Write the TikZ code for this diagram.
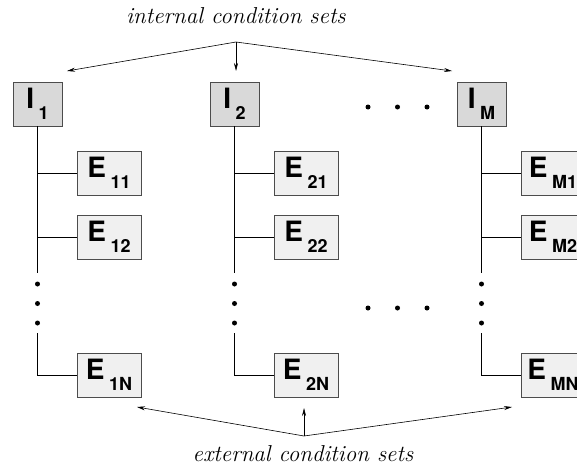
\documentclass[tikz,border=0pt]{standalone}
\usepackage{fontspec}
\newfontfamily\boxfont{TeX Gyre Heros}
\usetikzlibrary{arrows.meta}
\newcommand\boxlbl[2]{#1\hspace{4.5pt}\raisebox{-11pt}{\fontsize{18}{18}\selectfont #2}}
\begin{document}
\begin{tikzpicture}[x=1pt,y=-1pt,
  boxbase/.style={draw=black!70, line width=0.9pt, inner sep=0pt, minimum height=44pt,
    font=\boxfont\bfseries\fontsize{28}{28}\selectfont},
  ebox/.style={boxbase, fill=black!6, minimum width=64pt},
  ibox/.style={boxbase, fill=black!15, minimum width=49pt},
  conn/.style={line width=0.8pt},
  arr/.style={line width=0.6pt, -{Stealth[length=8pt,width=4pt]}},
  caption/.style={font=\itshape\fontsize{23}{23}\selectfont, inner sep=0pt},
  dotpt/.style={fill=black}
]
\useasboundingbox (0,0) rectangle (577,471);

% internal condition sets
\node[ibox] (I1) at (37.5,104) {\boxlbl{I}{1}};
\node[ibox] (I2) at (234.5,104) {\boxlbl{I}{2}};
\node[ibox] (IM) at (481.5,104) {\boxlbl{I}{M}};

% external condition sets
\node[ebox] (E11) at (109,173) {\boxlbl{E}{11}};
\node[ebox] (E12) at (109,237) {\boxlbl{E}{12}};
\node[ebox] (E1N) at (109,375) {\boxlbl{E}{1N}};
\node[ebox] (E21) at (306,173) {\boxlbl{E}{21}};
\node[ebox] (E22) at (306,237) {\boxlbl{E}{22}};
\node[ebox] (E2N) at (306,375) {\boxlbl{E}{2N}};
\node[ebox] (EM1) at (553,173) {\boxlbl{E}{M1}};
\node[ebox] (EM2) at (553,237) {\boxlbl{E}{M2}};
\node[ebox] (EMN) at (553,375) {\boxlbl{E}{MN}};

% tree connectors
\foreach \i in {1,2,M}{
  \draw[conn] (I\i.south) -- (I\i.south |- 0,273);
  \draw[conn] (I\i.south |- E\i1.west) -- (E\i1.west);
  \draw[conn] (I\i.south |- E\i2.west) -- (E\i2.west);
  \draw[conn] (I\i.south |- 0,333) |- (E\i N.west);
  \foreach \y in {284,303.5,323}
    \fill[dotpt] (I\i.south |- 0,\y) circle (2.5);
}

% horizontal ellipses
\foreach \x in {368,397.5,427}{
  \fill[dotpt] (\x,107) circle (2.5);
  \fill[dotpt] (\x,308) circle (2.5);
}

% captions and arrows
\node[caption] (itop) at (236,16) {internal condition sets};
\coordinate (ia) at (236,42);
\coordinate (ia1) at (67,71);
\coordinate (ia2) at (236,71);
\coordinate (iaM) at (452,71);
\draw[arr] (ia) -- (ia1);
\draw[arr] (ia) -- (ia2);
\draw[arr] (ia) -- (iaM);

\node[caption] (ebot) at (303,454) {external condition sets};
\coordinate (ea) at (304,436);
\coordinate (ea1) at (137,407);
\coordinate (ea2) at (304,408);
\coordinate (eaM) at (512,407);
\draw[arr] (ea) -- (ea1);
\draw[arr] (ea) -- (ea2);
\draw[arr] (ea) -- (eaM);
\end{tikzpicture}
\end{document}
